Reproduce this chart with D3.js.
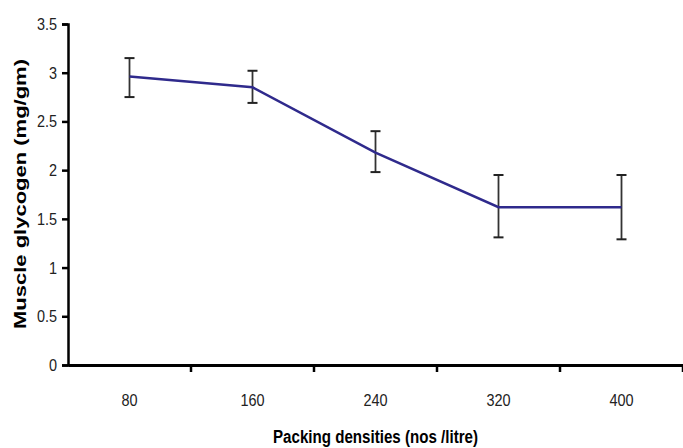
<!DOCTYPE html>
<html>
<head>
<meta charset="utf-8">
<script src="https://cdn.jsdelivr.net/npm/d3@7"></script>
<style>
  body { margin: 0; background: white; }
  .narrow { font-family: "Liberation Sans Narrow", "Arial Narrow", "Liberation Sans", sans-serif; }
</style>
</head>
<body>
<svg></svg>
<script>
const densities = ['80', '160', '240', '320', '400'];
const glycogen = [2.96, 2.85, 2.18, 1.62, 1.62];
const errLow = [2.75, 2.69, 1.98, 1.31, 1.29];
const errHigh = [3.15, 3.02, 2.40, 1.95, 1.95];
const yTicks = [0, 0.5, 1, 1.5, 2, 2.5, 3, 3.5];

const width = 683;
const height = 448;
const plotLeft = 68;
const plotRight = 683;
const plotTop = 24;
const plotBottom = 365;

const svg = d3.select('svg').attr('width', width).attr('height', height);

const x = d3.scaleBand().domain(densities).range([plotLeft, plotRight]);
const y = d3.scaleLinear().domain([0, 3.5]).range([plotBottom, plotTop]);

// squeeze (or stretch) text to imitate the original faces
function squeeze(sel, k) {
  sel.each(function() {
    const w = this.getComputedTextLength();
    d3.select(this).attr('textLength', w * k).attr('lengthAdjust', 'spacingAndGlyphs');
  });
}

// y axis
const yAxis = svg.append('g')
  .attr('transform', `translate(${plotLeft},0)`)
  .call(d3.axisLeft(y).tickValues(yTicks).tickFormat(d => d).tickSize(6).tickPadding(5));
yAxis.select('.domain').attr('stroke', '#000').attr('stroke-width', 2.5);
yAxis.selectAll('.tick line').attr('stroke', '#000').attr('stroke-width', 2.5);
yAxis.selectAll('.tick text')
  .attr('class', 'narrow')
  .style('font-size', '17px')
  .attr('fill', '#222')
  .call(squeeze, 0.85);

// x axis, ticks between categories
const xAxis = svg.append('g')
  .attr('transform', `translate(0,${plotBottom})`)
  .call(d3.axisBottom(x).tickSize(0).tickPadding(29));
xAxis.select('.domain').attr('stroke', '#000').attr('stroke-width', 3);
xAxis.selectAll('.tick text')
  .attr('class', 'narrow')
  .style('font-size', '17px')
  .attr('fill', '#222')
  .call(squeeze, 0.85);
xAxis.selectAll('.sep')
  .data(densities)
  .enter().append('line')
  .attr('x1', d => x(d) + x.bandwidth())
  .attr('x2', d => x(d) + x.bandwidth())
  .attr('y1', 0)
  .attr('y2', 7)
  .attr('stroke', '#000')
  .attr('stroke-width', 2.5);

// error bars
const cx = (d, i) => x(densities[i]) + x.bandwidth() / 2;
const bars = svg.append('g');
bars.selectAll('.stem')
  .data(glycogen)
  .enter().append('line')
  .attr('x1', cx).attr('x2', cx)
  .attr('y1', (d, i) => y(errLow[i]))
  .attr('y2', (d, i) => y(errHigh[i]))
  .attr('stroke', '#333')
  .attr('stroke-width', 1.8);
bars.selectAll('.capTop')
  .data(glycogen)
  .enter().append('line')
  .attr('x1', (d, i) => cx(d, i) - 5).attr('x2', (d, i) => cx(d, i) + 5)
  .attr('y1', (d, i) => y(errHigh[i])).attr('y2', (d, i) => y(errHigh[i]))
  .attr('stroke', '#222')
  .attr('stroke-width', 2);
bars.selectAll('.capBottom')
  .data(glycogen)
  .enter().append('line')
  .attr('x1', (d, i) => cx(d, i) - 5).attr('x2', (d, i) => cx(d, i) + 5)
  .attr('y1', (d, i) => y(errLow[i])).attr('y2', (d, i) => y(errLow[i]))
  .attr('stroke', '#222')
  .attr('stroke-width', 2);

// line
const line = d3.line()
  .x((d, i) => cx(d, i))
  .y(d => y(d));
svg.append('path')
  .datum(glycogen)
  .attr('d', line)
  .attr('fill', 'none')
  .attr('stroke', '#2f2a8c')
  .attr('stroke-width', 2.5);

// titles
svg.append('text')
  .attr('transform', 'translate(26,194) rotate(-90)')
  .attr('text-anchor', 'middle')
  .style('font-family', '"Liberation Sans", Arial, sans-serif')
  .style('font-weight', 'bold')
  .style('font-size', '17px')
  .attr('textLength', 270)
  .attr('lengthAdjust', 'spacingAndGlyphs')
  .text('Muscle glycogen (mg/gm)');

svg.append('text')
  .attr('class', 'narrow')
  .attr('x', (plotLeft + plotRight) / 2)
  .attr('y', 443)
  .attr('text-anchor', 'middle')
  .style('font-weight', 'bold')
  .style('font-size', '18px')
  .text('Packing densities (nos /litre)')
  .call(squeeze, 0.84);
</script>
</body>
</html>
